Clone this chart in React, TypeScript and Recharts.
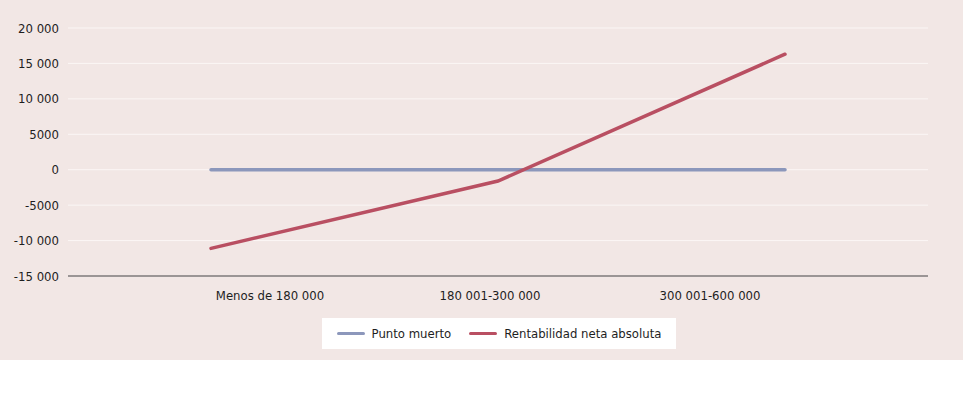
import { LineChart, Line, XAxis, YAxis, CartesianGrid, Legend } from "recharts";

const CATEGORIES = ["Menos de 180 000", "180 001-300 000", "300 001-600 000"];
const PUNTO_MUERTO = [0, 0, 0];
const RENTABILIDAD = [-11100, -1600, 16300];
const Y_TICKS = [-15000, -10000, -5000, 0, 5000, 10000, 15000, 20000];

const BLUE = "#8c97bb";
const RED = "#b94f62";
const FONT = "'DejaVu Sans', sans-serif";

const data = CATEGORIES.map((cat, i) => ({
  cat,
  punto: PUNTO_MUERTO[i],
  rent: RENTABILIDAD[i],
}));

function fmt(v: number) {
  const a = Math.abs(v);
  const s = a >= 10000 ? `${Math.floor(a / 1000)} ${String(a % 1000).padStart(3, "0")}` : String(a);
  return v < 0 ? `-${s}` : s;
}

function LegendBox() {
  return (
    <div
      style={{
        background: "#fff",
        width: 354,
        height: 31,
        display: "flex",
        alignItems: "center",
        justifyContent: "center",
        gap: 18,
        fontFamily: FONT,
        fontStretch: "condensed",
        fontSize: 13,
        color: "#1e1e1e",
      }}
    >
      <Item color={BLUE} label="Punto muerto" />
      <Item color={RED} label="Rentabilidad neta absoluta" />
    </div>
  );
}

function Item({ color, label }: { color: string; label: string }) {
  return (
    <span style={{ display: "inline-flex", alignItems: "center", gap: 7 }}>
      <span style={{ display: "inline-block", width: 28, height: 3, background: color, borderRadius: 2 }} />
      {label}
    </span>
  );
}

export default function App() {
  return (
    <div style={{ position: "absolute", left: 0, top: 0, width: 963, height: 403, background: "#fff" }}>
      <div style={{ width: 963, height: 360, background: "#f2e7e5" }}>
        <LineChart
          width={963}
          height={360}
          data={data}
          margin={{ top: 28, right: 35, left: 0, bottom: 22 }}
          style={{ fontFamily: FONT, fontStretch: "condensed" }}
        >
          <CartesianGrid vertical={false} stroke="#fbf6f5" strokeWidth={1} />
          <XAxis
            dataKey="cat"
            padding={{ left: 143, right: 143 }}
            tick={false}
            tickLine={false}
            axisLine={{ stroke: "#9b9595", strokeWidth: 2 }}
            height={1}
          />
          <XAxis
            xAxisId="lbl"
            dataKey="cat"
            padding={{ left: 202, right: 218 }}
            axisLine={false}
            tickLine={false}
            tick={{ fill: "#1e1e1e", fontSize: 13 }}
            tickMargin={8}
            height={30}
          />
          <YAxis
            width={68}
            domain={[-15000, 20000]}
            ticks={Y_TICKS}
            tickFormatter={fmt}
            axisLine={false}
            tickLine={false}
            tick={{ fill: "#1e1e1e", fontSize: 13 }}
            tickMargin={3}
          />
          <Legend
            verticalAlign="bottom"
            align="center"
            content={() => <LegendBox />}
            wrapperStyle={{ position: "absolute", left: 322, bottom: 11, width: 354, height: 31 }}
          />
          <Line
            dataKey="punto"
            name="Punto muerto"
            stroke={BLUE}
            strokeWidth={3.5}
            strokeLinecap="round"
            dot={false}
            isAnimationActive={false}
          />
          <Line
            dataKey="rent"
            name="Rentabilidad neta absoluta"
            stroke={RED}
            strokeWidth={3.5}
            strokeLinecap="round"
            dot={false}
            isAnimationActive={false}
          />
        </LineChart>
      </div>
    </div>
  );
}
